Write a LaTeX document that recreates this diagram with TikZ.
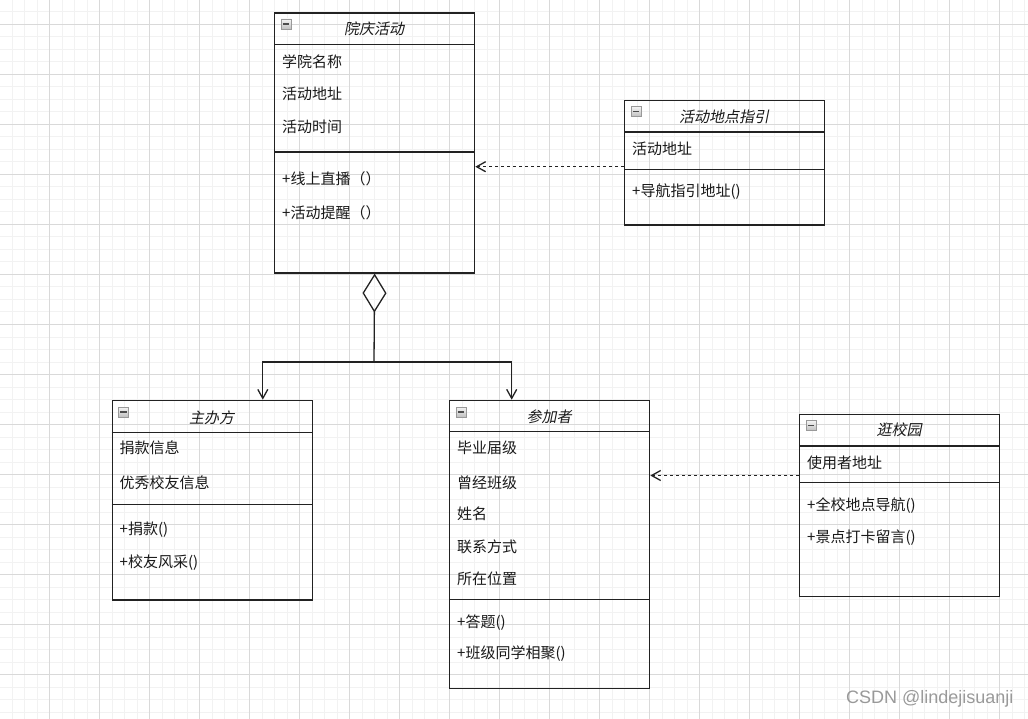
\documentclass[tikz,border=0pt]{standalone}
\usepackage{fontspec}
\setmainfont{Noto Sans CJK SC}
\newfontfamily\slantfont[FakeSlant=0.2]{Noto Sans CJK SC}
\newfontfamily\markfont{Liberation Sans}
\usetikzlibrary{arrows.meta,calc}
\definecolor{minorgrid}{HTML}{F2F2F2}
\definecolor{majorgrid}{HTML}{D9D9D9}
\definecolor{linecol}{HTML}{222222}

\begin{document}
\begin{tikzpicture}[x=1pt,y=-1pt,
  classbox/.style={draw=linecol,line width=1.3pt,anchor=north west,inner sep=0pt,minimum width=200pt},
  classline/.style={draw=linecol,line width=1.3pt},
  title/.style={font=\fontsize{15}{18}\slantfont,text=black!90,inner sep=0pt},
  member/.style={font=\fontsize{15}{18}\selectfont,text=black!90,inner sep=0pt,anchor=west},
  minusicon/.style={draw=gray!80,line width=0.8pt,top color=gray!8,bottom color=gray!50,minimum size=10pt,inner sep=0pt,
    path picture={\draw[black!70,line width=1.6pt] ($(path picture bounding box.center)+(-3.2,0)$) -- ($(path picture bounding box.center)+(3.2,0)$);}},
  dep/.style={draw=linecol,line width=1.3pt,dash pattern=on 3pt off 3pt,-{Straight Barb[length=9pt,width=10pt]}},
  agg/.style={draw=linecol,line width=1.3pt,{Diamond[open,length=39pt,width=24pt]}-},
  assoc/.style={draw=linecol,line width=1.3pt,-{Straight Barb[length=9pt,width=10pt]}}]
        \useasboundingbox (0,0) rectangle (1028,719);
        % grid
        \foreach \k in {1,...,82} \draw[minorgrid,line width=1pt] ({\k*12.5-0.5},0) -- ({\k*12.5-0.5},719);
        \foreach \k in {1,...,57} \draw[minorgrid,line width=1pt] (0,{\k*12.5-0.5}) -- (1028,{\k*12.5-0.5});
        \foreach \k in {0,...,19} \draw[majorgrid,line width=1pt] ({49.5+\k*50},0) -- ({49.5+\k*50},719);
        \foreach \k in {0,...,13} \draw[majorgrid,line width=1pt] (0,{24.5+\k*50}) -- (1028,{24.5+\k*50});

        % 院庆活动
        \node[classbox,minimum height=260pt] (huiqing) at (274,12.3) {};
        \draw[classline] (huiqing.west |- 0,44.3) -- (huiqing.east |- 0,44.3);
        \draw[classline] (huiqing.west |- 0,152) -- (huiqing.east |- 0,152);
        \node[minusicon] (hq m) at (286,24) {};
        \node[title] (hq t) at (374,28.7) {院庆活动};
        \node[member] (hq a1) at (282,61.7) {学院名称};
        \node[member] (hq a2) at (282,94) {活动地址};
        \node[member] (hq a3) at (282,126.5) {活动时间};
        \node[member] (hq o1) at (282,179) {+线上直播（）};
        \node[member] (hq o2) at (282,212.5) {+活动提醒（）};

        % 活动地点指引
        \node[classbox,minimum height=124.6pt] (zhiyin) at (624,99.7) {};
        \draw[classline] (zhiyin.west |- 0,132) -- (zhiyin.east |- 0,132);
        \draw[classline] (zhiyin.west |- 0,169.7) -- (zhiyin.east |- 0,169.7);
        \node[minusicon] (zy m) at (636,111.5) {};
        \node[title] (zy t) at (724,116.7) {活动地点指引};
        \node[member] (zy a1) at (632,149) {活动地址};
        \node[member] (zy o1) at (632,191.7) {+导航指引地址()};

        % 主办方
        \node[classbox,minimum height=199.6pt] (zhuban) at (111.5,399.7) {};
        \draw[classline] (zhuban.west |- 0,432.3) -- (zhuban.east |- 0,432.3);
        \draw[classline] (zhuban.west |- 0,504.3) -- (zhuban.east |- 0,504.3);
        \node[minusicon] (zb m) at (123.5,412) {};
        \node[title] (zb t) at (211.5,417.5) {主办方};
        \node[member] (zb a1) at (119.5,448) {捐款信息};
        \node[member] (zb a2) at (119.5,482.5) {优秀校友信息};
        \node[member] (zb o1) at (119.5,530) {+捐款()};
        \node[member] (zb o2) at (119.5,562.5) {+校友风采()};

        % 参加者
        \node[classbox,minimum height=288pt] (canjia) at (449,399.7) {};
        \draw[classline] (canjia.west |- 0,431.7) -- (canjia.east |- 0,431.7);
        \draw[classline] (canjia.west |- 0,599.7) -- (canjia.east |- 0,599.7);
        \node[minusicon] (cj m) at (461,412) {};
        \node[title] (cj t) at (549,416.7) {参加者};
        \node[member] (cj a1) at (457,448) {毕业届级};
        \node[member] (cj a2) at (457,482.5) {曾经班级};
        \node[member] (cj a3) at (457,514) {姓名};
        \node[member] (cj a4) at (457,547) {联系方式};
        \node[member] (cj a5) at (457,579) {所在位置};
        \node[member] (cj o1) at (457,622.5) {+答题()};
        \node[member] (cj o2) at (457,654) {+班级同学相聚()};

        % 逛校园
        \node[classbox,minimum height=182pt] (guangxiao) at (799,413.7) {};
        \draw[classline] (guangxiao.west |- 0,446) -- (guangxiao.east |- 0,446);
        \draw[classline] (guangxiao.west |- 0,482.3) -- (guangxiao.east |- 0,482.3);
        \node[minusicon] (gx m) at (811,425.5) {};
        \node[title] (gx t) at (899,430) {逛校园};
        \node[member] (gx a1) at (807,463) {使用者地址};
        \node[member] (gx o1) at (807,506) {+全校地点导航()};
        \node[member] (gx o2) at (807,538) {+景点打卡留言()};

        % connectors
        \draw[dep] (zhiyin.west |- 0,166.7) -- (huiqing.east |- 0,166.7);
        \draw[dep] (guangxiao.west |- 0,475.5) -- (canjia.east |- 0,475.5);
        \coordinate (split) at (374,362);
        \draw[agg] (huiqing.south) -- (split);
        \draw[assoc] (split) -| ($(zhuban.north east)+(-50,0)$);
        \draw[assoc] (split) -| ($(canjia.north west)+(62.7,0)$);

        \node[font=\markfont\fontsize{18}{20}\selectfont,text=black!40,anchor=west,inner sep=0pt] (mark) at (846,699) {CSDN @lindejisuanji};
\end{tikzpicture}
\end{document}
